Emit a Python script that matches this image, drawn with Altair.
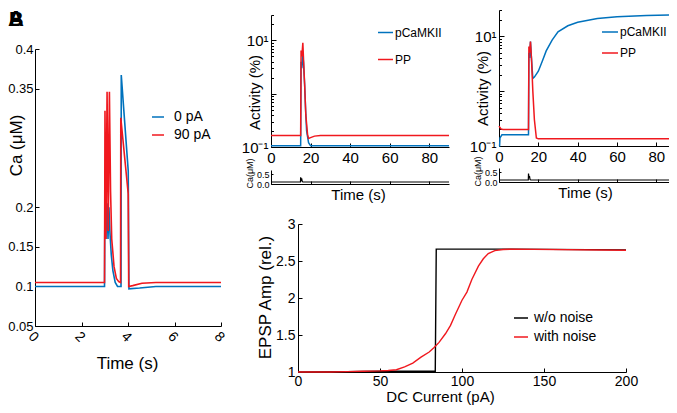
import altair as alt
import pandas as pd

# ---------------- data ----------------
# Panel A : Ca (uM) vs time (s)
a_t_0pA = [0, 2.99, 3.0, 3.02, 3.05, 3.08, 3.1, 3.14, 3.18, 3.22, 3.28, 3.35, 3.45, 3.55, 3.7, 3.71, 4.01, 4.04, 4.5, 5.2, 8]
a_v_0pA = [0.1, 0.1, 0.17, 0.21, 0.16, 0.2, 0.205, 0.16, 0.2, 0.17, 0.14, 0.12, 0.105, 0.1, 0.1, 0.367, 0.246, 0.097, 0.098, 0.1, 0.1]
a_t_90pA = [0, 2.99, 3.01, 3.05, 3.1, 3.15, 3.2, 3.25, 3.3, 3.4, 3.5, 3.6, 3.68, 3.69, 4.01, 4.03, 4.2, 4.6, 5.2, 8]
a_v_90pA = [0.105, 0.105, 0.322, 0.16, 0.346, 0.17, 0.346, 0.22, 0.16, 0.125, 0.11, 0.106, 0.105, 0.313, 0.217, 0.1, 0.101, 0.104, 0.105, 0.105]

# Panel B (low): activity (%) vs time (s)
b_t_camk = [0, 15, 15.2, 15.6, 16, 16.4, 17, 17.5, 18, 19, 20, 90]
b_v_camk = [0.105, 0.105, 4, 3, 5.5, 4, 1.5, 0.5, 0.2, 0.12, 0.106, 0.105]
b_t_pp = [0, 15, 15.2, 15.6, 16.1, 16.5, 17, 17.6, 18.5, 19, 20, 22, 25, 90]
b_v_pp = [0.165, 0.165, 6.5, 5, 9, 4, 1.5, 0.4, 0.17, 0.145, 0.15, 0.16, 0.165, 0.165]
b_t_ca = [0, 14.9, 15, 15.3, 15.5, 15.8, 16.2, 90]
b_v_ca = [0.1, 0.1, 0.33, 0.15, 0.28, 0.12, 0.1, 0.1]

# Panel B (high)
c_t_camk = [0, 0.3, 0.5, 1.5, 15, 15.2, 15.6, 16, 16.5, 17.2, 18, 20, 22, 24, 27, 30, 35, 40, 50, 60, 75, 90]
c_v_camk = [0.1, 0.1, 0.14, 0.16, 0.16, 5, 4, 8, 4, 1.7, 1.8, 2.3, 3.5, 5.4, 8.5, 12, 15.5, 18, 21, 22.5, 23.8, 24.5]
c_t_pp = [0, 1, 2, 15, 15.2, 15.6, 16, 16.5, 17.2, 18, 19, 20, 90]
c_v_pp = [0.23, 0.205, 0.2, 0.2, 6.5, 5, 8, 4, 1, 0.3, 0.14, 0.135, 0.135]
c_t_ca = [0, 14.9, 15, 15.3, 15.5, 15.8, 16.2, 90]
c_v_ca = [0.1, 0.1, 0.42, 0.2, 0.3, 0.12, 0.1, 0.1]

# Panel C : EPSP amp vs DC current
d_x_nonoise = [0, 30, 50, 83.7, 84.3, 130, 200]
d_y_nonoise = [1, 1.005, 1.01, 1.01, 2.66, 2.66, 2.65]
d_x_noise = [0, 20, 30, 40, 50, 55, 60, 65, 70, 75, 80, 83, 86, 90, 93, 96, 100, 103, 106, 110, 113, 116, 120, 125, 130, 200]
d_y_noise = [1, 1, 1.005, 1.01, 1.015, 1.02, 1.03, 1.07, 1.12, 1.2, 1.27, 1.33, 1.4, 1.52, 1.63, 1.78, 1.97, 2.08, 2.25, 2.43, 2.53, 2.6, 2.64, 2.655, 2.66, 2.645]

BLUE = "#0072BD"
RED = "#F0181E"
FONT = "Liberation Sans"
M = 8
W, H = 661, 397


def px(a):
    return a - M


def long(pairs):
    rows = []
    for name, ts, vs in pairs:
        for i, (t, v) in enumerate(zip(ts, vs)):
            rows.append({"t": t, "v": v, "s": name, "o": i})
    return pd.DataFrame(rows)


BASE = dict(grid=False, domainColor="black", tickColor="black", labelColor="black",
            titleColor="black", labelFont=FONT, titleFont=FONT, titleFontWeight="normal",
            labelFlush=False, labelOverlap=False, domainWidth=1, tickWidth=1)


def xaxis(y_page, tick=4, gap=3, **kw):
    # "top" axis placed at the bottom edge: ticks point inward, labels below
    d = dict(BASE, orient="top", offset=-px(y_page), tickSize=tick,
             labelPadding=-(tick + gap), labelBaseline="top", titleBaseline="middle",
             titleAlign="center")
    d.update(kw)
    return alt.Axis(**d)


def yaxis(x_page, tick=4, gap=3, **kw):
    # "right" axis placed at the left edge: ticks point inward, labels left
    d = dict(BASE, orient="right", offset=px(x_page) - W, tickSize=tick,
             labelPadding=-(tick + gap), labelAlign="right", labelBaseline="middle",
             titleBaseline="middle", titleAlign="center", titleAngle=270)
    d.update(kw)
    return alt.Axis(**d)


def legend(x, y_page_top, size, font, rowpad, loff):
    return alt.Legend(orient="none", legendX=px(x), legendY=px(y_page_top), symbolType="stroke",
                      symbolSize=size, symbolStrokeWidth=1.5, labelFontSize=font,
                      labelFont=FONT, labelColor="black", rowPadding=rowpad,
                      labelOffset=loff, padding=0, title=None)


# ---------- panel A ----------
dfa = long([("\u20070 pA", a_t_0pA, a_v_0pA), ("90 pA", a_t_90pA, a_v_90pA)])
pa = alt.Chart(dfa).mark_line(strokeWidth=1.6).encode(
    x=alt.X("t:Q", scale=alt.Scale(domain=[0, 8], range=[px(35), px(221)], nice=False, zero=False),
            axis=xaxis(326, values=[0, 2, 4, 6, 8], labelAngle=45, labelAlign="left",
                       labelFontSize=14, title="Time (s)", titleFontSize=17,
                       titleX=px(127), titleY=37)),
    y=alt.Y("v:Q", scale=alt.Scale(domain=[0.05, 0.4], range=[px(326), px(49)], nice=False, zero=False),
            axis=yaxis(35, gap=2, values=[0.05, 0.1, 0.15, 0.2, 0.35, 0.4], format="~g",
                       labelFontSize=13, title="Ca (\u03bcM)", titleFontSize=17,
                       titleX=-19, titleY=px(145))),
    color=alt.Color("s:N", scale=alt.Scale(domain=["\u20070 pA", "90 pA"], range=[BLUE, RED]),
                    legend=legend(151, 110, 144, 14, 4, 9)),
    order="o:Q",
)

# ---------- panel B ----------
log_vals = [0.1, 0.2, 0.3, 0.4, 0.5, 0.6, 0.7, 0.8, 0.9, 1, 2, 3, 4, 5, 6, 7, 8, 9, 10, 20, 30]
log_expr = "datum.value == 10 ? '10\u00b9' : (datum.value == 0.1 ? '10\u207b\u00b9' : '')"
log_tick = {"condition": {"test": "datum.value == 10 || datum.value == 0.1 || datum.value == 1", "value": 5},
            "value": 2.5}


def activity(df, x0, x1, ybot, ytop, leg, title_x, title_y):
    return alt.Chart(df).mark_line(strokeWidth=1.5).encode(
        x=alt.X("t:Q", scale=alt.Scale(domain=[0, 90], range=[px(x0), px(x1)], nice=False, zero=False),
                axis=xaxis(ybot, values=[0, 20, 40, 60, 80], labelFontSize=15, title=None)),
        y=alt.Y("v:Q", scale=alt.Scale(type="log", domain=[0.1, 30], range=[px(ybot), px(ytop)], nice=False),
                axis=alt.Axis(**dict(BASE, orient="right", offset=px(x0) - W, values=log_vals,
                                     labelExpr=log_expr, labelFontSize=15, tickSize=log_tick,
                                     labelPadding=-8, labelAlign="right", labelBaseline="middle",
                                     title="Activity (%)", titleFontSize=15, titleX=title_x,
                                     titleY=px(title_y), titleBaseline="middle", titleAlign="center",
                                     titleAngle=270))),
        color=alt.Color("s:N", scale=alt.Scale(domain=["pCaMKII", "PP"], range=[BLUE, RED]), legend=leg),
        order="o:Q",
    )


def ca_sub(df, x0, x1, y0, ytop, time_cx):
    return alt.Chart(df).mark_line(strokeWidth=1.2, color="black").encode(
        x=alt.X("t:Q", scale=alt.Scale(domain=[0, 90], range=[px(x0), px(x1)], nice=False, zero=False),
                axis=xaxis(y0, tick=3, values=[0, 20, 40, 60, 80], labels=False,
                           title="Time (s)", titleFontSize=15, titleX=px(time_cx), titleY=10)),
        y=alt.Y("v:Q", scale=alt.Scale(domain=[0, 0.7], range=[px(y0), px(ytop)], nice=False, zero=False),
                axis=yaxis(x0, tick=2, gap=2, values=[0, 0.5], labelFontSize=9,
                           title="Ca(\u03bcM)", titleFontSize=9, titleX=-22, titleY=px(y0 - 11))),
        order="o:Q",
    )


dfb = long([("pCaMKII", b_t_camk, b_v_camk), ("PP", b_t_pp, b_v_pp)])
pb = activity(dfb, 271, 449, 147, 15, legend(377, 24, 225, 12, 12, 1), -17, 92)
pb_ca = ca_sub(long([("ca", b_t_ca, b_v_ca)]), 271, 449, 184, 170, 358)

dfc = long([("pCaMKII", c_t_camk, c_v_camk), ("PP", c_t_pp, c_v_pp)])
pc = activity(dfc, 499, 676, 146, 10, legend(601, 23, 256, 12, 6, 1), -17, 88)
pc_ca = ca_sub(long([("ca", c_t_ca, c_v_ca)]), 499, 676, 182, 168, 585)

# ---------- panel C ----------
dfd = long([("w/o noise", d_x_nonoise, d_y_nonoise), ("with noise", d_x_noise, d_y_noise)])
pd_ = alt.Chart(dfd).mark_line(strokeWidth=1.4).encode(
    x=alt.X("t:Q", scale=alt.Scale(domain=[0, 200], range=[px(298), px(626)], nice=False, zero=False),
            axis=xaxis(372, gap=2, values=[0, 50, 100, 150, 200], labelFontSize=14,
                       title="DC Current (pA)", titleFontSize=15, titleX=px(440), titleY=24)),
    y=alt.Y("v:Q", scale=alt.Scale(domain=[1, 3], range=[px(372), px(224)], nice=False, zero=False),
            axis=yaxis(298, values=[1, 1.5, 2, 2.5, 3], format="~g", labelFontSize=14,
                       title="EPSP Amp (rel.)", titleFontSize=17, titleX=-33, titleY=px(297))),
    color=alt.Color("s:N", scale=alt.Scale(domain=["w/o noise", "with noise"], range=["black", RED]),
                    legend=legend(513, 310, 196, 14, 4, 5)),
    order="o:Q",
)

letter_a = alt.Chart(pd.DataFrame({"lab": ["A"]})).mark_text(
    font=FONT, fontSize=22, fontWeight="bold", align="left", baseline="top", color="black"
).encode(text="lab:N", x=alt.value(0), y=alt.value(1))
letter_b = alt.Chart(pd.DataFrame({"lab": ["B"]})).mark_text(
    font=FONT, fontSize=20, fontWeight="bold", align="left", baseline="top", color="black"
).encode(text="lab:N", x=alt.value(1), y=alt.value(2))

chart = alt.layer(pa, pb, pb_ca, pc, pc_ca, pd_, letter_a, letter_b).resolve_scale(
    x="independent", y="independent", color="independent"
).resolve_axis(x="independent", y="independent").resolve_legend(color="independent").properties(
    width=W, height=H, autosize=alt.AutoSizeParams(type="none"), padding=0
).configure_view(stroke=None)

chart.save("out.html", embed_options={"renderer": "svg", "actions": False})
